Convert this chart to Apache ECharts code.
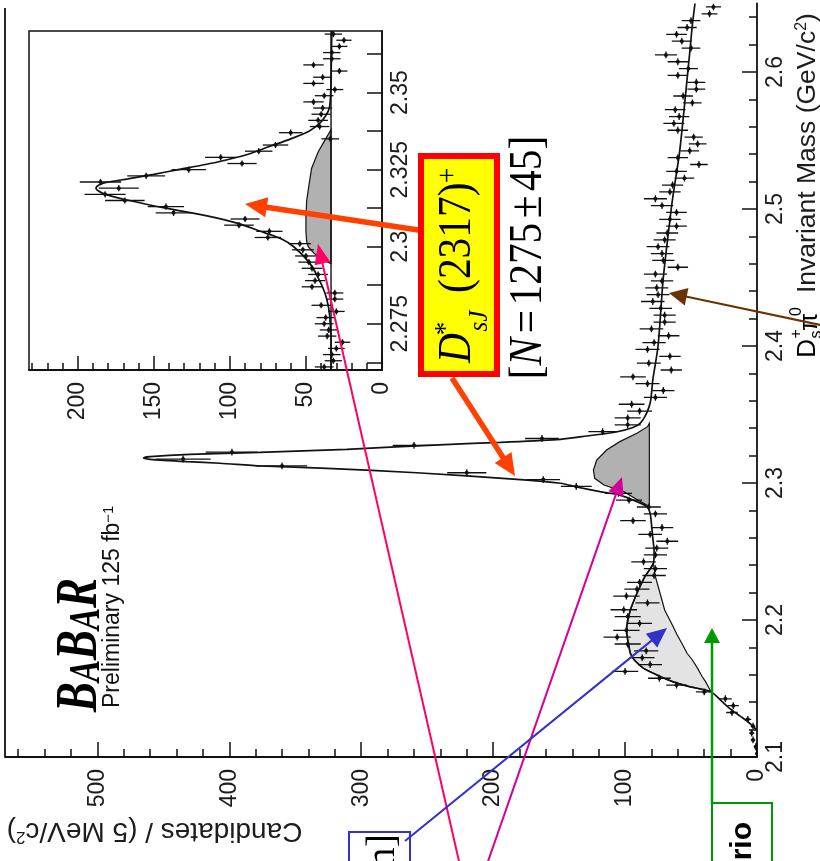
<!DOCTYPE html>
<html>
<head>
<meta charset="utf-8">
<title>Ds+ pi0 invariant mass</title>
<script src="https://cdn.jsdelivr.net/npm/echarts@6.0.0/dist/echarts.min.js"></script>
<style>
  html, body { margin: 0; padding: 0; background: #ffffff; }
  #chart { width: 820px; height: 861px; }
</style>
</head>
<body>
<div id="chart"></div>
<script>
// ---- Main histogram: Ds+ pi0 candidates, 5 MeV bins from 2.10 GeV ----
const MAIN_BIN_START = 2.10;
const MAIN_BIN_WIDTH = 0.005;
const mainCounts = [
  0, 1, 3, 4, 3, 7, 19, 18, 24, 40,
  61, 74, 100, 81, 87, 84, 98, 106, 99, 89,
  98, 101, 83, 99, 91, 89, 78, 77, 86, 77,
  76, 68, 81, 72, 94, 77, 82, 97, 105, 137,
  162, 220, 360, 435, 398, 260, 163, 117, 98, 98,
  89, 95, 77, 71, 83, 94, 65, 82, 66, 83,
  78, 67, 80, 70, 70, 73, 79, 75, 76, 72,
  77, 60, 71, 72, 75, 70, 68, 61, 66, 61,
  72, 77, 66, 64, 55, 61, 44, 60, 51, 45,
  48, 60, 63, 59, 62, 49, 56, 46, 46, 60,
  52, 60, 69, 50, 57, 61, 53, 50, 36, 33
];

// ---- Zoomed histogram: 2 MeV bins from 2.26 GeV ----
const ZOOM_BIN_START = 2.26;
const ZOOM_BIN_WIDTH = 0.002;
const zoomCounts = [
  38, 32, 33, 30, 26, 36, 35, 38, 37, 30,
  40, 31, 31, 46, 44, 42, 46, 48, 50, 52,
  54, 75, 74, 94, 90, 137, 142, 169, 182, 173,
  185, 155, 127, 92, 106, 81, 70, 34, 60, 41,
  42, 40, 39, 45, 38, 31, 45, 39, 28, 45,
  33, 33, 28, 25, 32
];

// ---- Fit result, main plot: [mass, candidates] ----
const mainFit = [
  [2.1195, 0], [2.125, 6], [2.130, 13], [2.135, 20], [2.140, 26], [2.1477, 35],
  [2.1515, 52], [2.155, 64], [2.1586, 73], [2.1647, 86], [2.1708, 93], [2.1757, 96],
  [2.183, 97.5], [2.190, 98.7], [2.1951, 98.7], [2.2073, 96], [2.2195, 91], [2.2316, 85],
  [2.2414, 78.5], [2.250, 78], [2.260, 79], [2.270, 80], [2.2779, 81], [2.2827, 83.5],
  [2.2864, 91], [2.2912, 104], [2.2937, 119], [2.2971, 136.6], [2.2998, 149], [2.3027, 182],
  [2.3075, 258], [2.3107, 326], [2.3124, 376], [2.3144, 407], [2.3156, 432], [2.3173, 460],
  [2.3182, 465], [2.3192, 460], [2.3209, 430], [2.3224, 377], [2.3246, 311], [2.3277, 245],
  [2.3297, 195], [2.3319, 149], [2.3343, 129], [2.3374, 106], [2.3405, 94], [2.3435, 88.6],
  [2.3484, 85], [2.355, 82], [2.3606, 80.5], [2.375, 79], [2.400, 75], [2.450, 71],
  [2.500, 65], [2.5114, 63.4], [2.5406, 58.8], [2.5723, 55.3], [2.5966, 52.8], [2.616, 50.8],
  [2.6343, 49], [2.650, 47]
];

// Ds*(2112) reflection band: [mass, upper edge, lower edge]
const reflLow = [
  [2.1477, 35, 35], [2.1515, 52, 37], [2.155, 64, 39], [2.1586, 73, 41.5],
  [2.1647, 86, 45], [2.1708, 93, 49], [2.1757, 96, 53], [2.183, 97.5, 57],
  [2.190, 98.7, 61], [2.1951, 98.7, 63.5], [2.2073, 96, 70], [2.2195, 91, 73.5],
  [2.2316, 85, 77], [2.2414, 78.5, 78.5]
];

// Ds(2460) reflection bump on top of the background level: [mass, upper edge]
const REFL_HIGH_BASE = 81.6;
const reflHigh = [
  [2.2827, 81.6], [2.2839, 83.6], [2.2885, 92], [2.2937, 101], [2.2985, 116],
  [2.3034, 123], [2.3095, 124], [2.3168, 121.5], [2.3241, 114], [2.3302, 104],
  [2.3363, 91], [2.3411, 83], [2.3436, 81.6]
];

// ---- Fit result, zoomed plot ----
const zoomFit = [
  [2.260, 33.5], [2.270, 33.5], [2.275, 34], [2.280, 35], [2.285, 37.5], [2.290, 42],
  [2.295, 48], [2.300, 58], [2.3025, 66], [2.305, 80], [2.3075, 94], [2.310, 115],
  [2.3125, 142], [2.315, 166], [2.317, 182], [2.318, 186], [2.319, 188], [2.320, 186],
  [2.321, 180], [2.322, 167], [2.3235, 150], [2.325, 134], [2.3275, 108], [2.330, 88],
  [2.3325, 74], [2.335, 60], [2.3375, 48], [2.340, 41], [2.3425, 37], [2.345, 34.6],
  [2.350, 33.7], [2.360, 33.3], [2.370, 33]
];
const ZOOM_REFL_BASE = 33.5;
const zoomRefl = [
  [2.2945, 33.5], [2.296, 40], [2.298, 45], [2.300, 48.5], [2.3016, 49.5], [2.305, 50],
  [2.310, 50], [2.315, 49.5], [2.320, 48], [2.3254, 46.3], [2.3308, 41.9], [2.3346, 37.5],
  [2.338, 33.5]
];
const zoomBackground = [[2.26, 33.5], [2.37, 33.5]];

// ---- Axis ticks ----
const mainCountTicks = [0, 100, 200, 300, 400, 500];
const mainCountMinorTicks = [20, 40, 60, 80, 120, 140, 160, 180, 220, 240, 260, 280,
  320, 340, 360, 380, 420, 440, 460, 480, 520, 540, 560];
const mainMassTicks = [2.1, 2.2, 2.3, 2.4, 2.5, 2.6];
const mainMassMinorTicks = [2.12, 2.14, 2.16, 2.18, 2.22, 2.24, 2.26, 2.28, 2.32, 2.34,
  2.36, 2.38, 2.42, 2.44, 2.46, 2.48, 2.52, 2.54, 2.56, 2.58, 2.62, 2.64];
const zoomCountTicks = [0, 50, 100, 150, 200];
const zoomCountMinorTicks = [10, 20, 30, 40, 60, 70, 80, 90, 110, 120, 130, 140,
  160, 170, 180, 190, 210, 220, 230];
const zoomMassTicks = [2.2625, 2.275, 2.2875, 2.3, 2.3125, 2.325, 2.3375, 2.35, 2.3625];
const zoomMassLabels = [2.275, 2.3, 2.325, 2.35];

// ---- Drawing ----
const SANS = '"Liberation Sans", Arial, Helvetica, sans-serif';
const SERIF = '"Liberation Serif", "Times New Roman", serif';
const INK = '#111111';
const LABEL_INK = '#1c1c1c';

const toXY = rows => rows.map(r => [r[1], r[0]]);

function histogramPoints(counts, start, width) {
  return counts.map((c, i) => [c, start + (i + 0.5) * width, Math.sqrt(c), width / 2]);
}

function errorBarSeries(name, xi, yi, points) {
  return {
    name, type: 'custom', xAxisIndex: xi, yAxisIndex: yi, z: 3, clip: true, silent: true,
    dimensions: ['count', 'mass', 'err', 'halfBin'],
    encode: { x: 0, y: 1 },
    data: points,
    renderItem(params, api) {
      const c = api.value(0), m = api.value(1), e = api.value(2), hw = api.value(3);
      const p = api.coord([c, m]);
      const l = api.coord([c - e, m]), r = api.coord([c + e, m]);
      const b = api.coord([c, m - hw]), t = api.coord([c, m + hw]);
      const st = { stroke: INK, lineWidth: 1.3 };
      return {
        type: 'group',
        children: [
          { type: 'line', shape: { x1: l[0], y1: l[1], x2: r[0], y2: r[1] }, style: st },
          { type: 'line', shape: { x1: b[0], y1: b[1], x2: t[0], y2: t[1] }, style: st },
          { type: 'circle', shape: { cx: p[0], cy: p[1], r: 2 }, style: { fill: INK } }
        ]
      };
    }
  };
}

function bandSeries(name, xi, yi, rows, baseValue, fill) {
  return {
    name, type: 'custom', xAxisIndex: xi, yAxisIndex: yi, z: 1, clip: true, silent: true,
    data: [[rows[0][1], rows[0][0]]],
    encode: { x: 0, y: 1 },
    renderItem(params, api) {
      const pts = rows.map(r => api.coord([r[1], r[0]]));
      for (let i = rows.length - 1; i >= 0; i--) {
        const lower = rows[i].length > 2 ? rows[i][2] : baseValue;
        pts.push(api.coord([lower, rows[i][0]]));
      }
      return { type: 'polygon', shape: { points: pts }, style: { fill, stroke: INK, lineWidth: 1.2 } };
    }
  };
}

function fitLine(name, xi, yi, rows, width) {
  return {
    name, type: 'line', xAxisIndex: xi, yAxisIndex: yi, data: toXY(rows),
    symbol: 'none', showSymbol: false, smooth: 0.25, clip: true, silent: true, z: 4,
    lineStyle: { color: INK, width }
  };
}

function countAxis(grid, max, ticks, tickLen, labels, margin) {
  return {
    gridIndex: grid, type: 'value', min: 0, max, inverse: true, position: 'bottom',
    axisLine: { show: !!labels, onZero: false, lineStyle: { color: INK, width: 1.8 } },
    axisTick: { show: true, inside: true, length: tickLen, customValues: ticks,
      lineStyle: { color: INK, width: 1.5 } },
    axisLabel: labels ? { show: true, customValues: labels, rotate: 90, margin,
      color: LABEL_INK, fontSize: 23, fontFamily: SANS, hideOverlap: false } : { show: false },
    splitLine: { show: false }, minorTick: { show: false }
  };
}

function massAxis(grid, min, max, ticks, tickLen, labels, margin) {
  return {
    gridIndex: grid, type: 'value', min, max, position: 'right',
    axisLine: { show: !!labels, onZero: false, lineStyle: { color: INK, width: 1.8 } },
    axisTick: { show: true, inside: true, length: tickLen, customValues: ticks,
      lineStyle: { color: INK, width: 1.5 } },
    axisLabel: labels ? { show: true, customValues: labels, rotate: 90, margin,
      color: LABEL_INK, fontSize: 23, fontFamily: SANS, hideOverlap: false } : { show: false },
    splitLine: { show: false }, minorTick: { show: false }
  };
}

// Annotation helpers (slide overlay drawn on top of the plot)
function arrow(x1, y1, x2, y2, color, width, headLen, headHalf) {
  const dx = x2 - x1, dy = y2 - y1, L = Math.hypot(dx, dy);
  const ux = dx / L, uy = dy / L;
  const bx = x2 - ux * headLen, by = y2 - uy * headLen;
  return [
    { type: 'line', z: 50, silent: true,
      shape: { x1, y1, x2: bx + ux * 2, y2: by + uy * 2 },
      style: { stroke: color, lineWidth: width } },
    { type: 'polygon', z: 51, silent: true,
      shape: { points: [[x2, y2], [bx - uy * headHalf, by + ux * headHalf], [bx + uy * headHalf, by - ux * headHalf]] },
      style: { fill: color } }
  ];
}

function txt(text, x, y, font, extra) {
  return Object.assign({
    type: 'text', x, y, z: 62, silent: true,
    style: { text, font, fill: '#000', align: 'left', textAlign: 'left',
      verticalAlign: 'middle', textVerticalAlign: 'middle' }
  }, extra || {});
}

const ROT = Math.PI / 2;

const graphics = [
  // frame edge of the main plot
  { type: 'line', z: 10, silent: true, shape: { x1: 5, y1: 8, x2: 5, y2: 757 },
    style: { stroke: INK, lineWidth: 1.8 } },

  // experiment label
  { type: 'text', x: 80, y: 712, rotation: ROT, scaleX: 0.75, z: 20, silent: true,
    style: { text: '{b|B}{a|A}{b|B}{a|A}{b|R}', fill: '#000', align: 'left', textAlign: 'left',
      verticalAlign: 'middle', textVerticalAlign: 'middle',
      rich: {
        b: { fontSize: 60, fontFamily: SERIF, fontStyle: 'italic', fontWeight: 'bold', verticalAlign: 'bottom' },
        a: { fontSize: 44, fontFamily: SERIF, fontStyle: 'italic', fontWeight: 'bold', verticalAlign: 'bottom' }
      } } },
  { type: 'text', x: 113, y: 708, rotation: ROT, z: 20, silent: true,
    style: { text: '{p|Preliminary 125 fb}{s|\u22121}', fill: '#111', align: 'left', textAlign: 'left',
      verticalAlign: 'middle', textVerticalAlign: 'middle',
      rich: {
        p: { fontSize: 23, fontFamily: SANS },
        s: { fontSize: 15, fontFamily: SANS, verticalAlign: 'top' }
      } } },

  // axis titles
  { type: 'text', x: 154.5, y: 831, rotation: Math.PI, z: 20, silent: true,
    style: { text: '{a|Candidates / (5 MeV/c}{s|2}{a|)}', fill: LABEL_INK, align: 'center', textAlign: 'center',
      verticalAlign: 'middle', textVerticalAlign: 'middle',
      rich: {
        a: { fontSize: 28, fontFamily: SANS },
        s: { fontSize: 17, fontFamily: SANS, verticalAlign: 'top' }
      } } },
  { type: 'group', x: 807.5, y: 358, rotation: ROT, z: 20, silent: true,
    children: [
      txt('D', 0, 0, '26.5px ' + SANS, { z: 20 }),
      txt('+', 19.5, -11, '16px ' + SANS, { z: 20 }),
      txt('s', 19.5, 9, '16px ' + SANS, { z: 20 }),
      txt('\u03c0', 27, 2, '26.5px ' + SANS, { z: 20 }),
      txt('0', 42, -11, '16px ' + SANS, { z: 20 }),
      { type: 'text', x: 65, y: 0, z: 20, silent: true,
        style: { text: '{a|Invariant Mass (GeV/c}{s|2}{a|)}', fill: LABEL_INK, align: 'left', textAlign: 'left',
          verticalAlign: 'middle', textVerticalAlign: 'middle',
          rich: {
            a: { fontSize: 26.5, fontFamily: SANS },
            s: { fontSize: 16, fontFamily: SANS, verticalAlign: 'top' }
          } } }
    ] },

  // pointer lines
  ...arrow(461, 870, 318, 244, '#ff0066', 2, 20, 8),
  ...arrow(485, 870, 622, 477, '#d4009a', 2, 18, 8),
  ...arrow(405, 841, 667, 628, '#3232c8', 2, 20, 9),
  ...arrow(712, 803, 712, 628, '#009900', 2.5, 15, 8),
  ...arrow(830, 327, 669, 293, '#6b3300', 2, 18, 9),
  ...arrow(425, 231, 245, 204, '#ff4000', 5.5, 22, 10),
  ...arrow(452, 378, 515, 476, '#ff4000', 5.5, 22, 10),

  // boxed state label
  { type: 'rect', z: 60, silent: true, shape: { x: 421, y: 156, width: 76, height: 218 },
    style: { fill: '#ffff00', stroke: '#ff0000', lineWidth: 6 } },
  { type: 'group', x: 458, y: 265, rotation: ROT, scaleX: 0.9, z: 62, silent: true,
    children: [
      txt('D', -109, 0, 'italic 46px ' + SERIF),
      txt('*', -78, -12, '30px ' + SERIF),
      txt('sJ', -74, 22, 'italic 28px ' + SERIF),
      txt('(2317)', -31, 0, '46px ' + SERIF),
      txt('+', 91, -10, '30px ' + SERIF)
    ] },
  { type: 'text', x: 529, y: 257.5, rotation: ROT, scaleX: 0.9, z: 62, silent: true,
    style: { text: '{b|[}{n|N}{o|=}{b|1275}{o|\u00b1}{b|45}{b|]}', fill: '#000',
      align: 'center', textAlign: 'center', verticalAlign: 'middle', textVerticalAlign: 'middle',
      rich: {
        b: { fontSize: 46, fontFamily: SERIF },
        n: { fontSize: 46, fontFamily: SERIF, fontStyle: 'italic' },
        o: { fontSize: 46, fontFamily: SERIF, padding: [0, 5] }
      } } },

  // boxes at the lower edge
  { type: 'rect', z: 60, silent: true, shape: { x: 349, y: 832, width: 61, height: 40 },
    style: { fill: 'rgba(255,255,255,0)', stroke: '#3232c8', lineWidth: 2 } },
  { type: 'text', x: 383.5, y: 834, rotation: ROT, z: 61, silent: true,
    style: { text: 'm]', font: '40px ' + SERIF, fill: '#000', align: 'right', textAlign: 'right',
      verticalAlign: 'middle', textVerticalAlign: 'middle' } },
  { type: 'rect', z: 60, silent: true, shape: { x: 712, y: 803, width: 60, height: 70 },
    style: { fill: '#ffffff', stroke: '#009900', lineWidth: 2 } },
  { type: 'text', x: 743, y: 822, rotation: ROT, z: 61, silent: true,
    style: { text: 'rio', font: 'bold 30px ' + SANS, fill: '#000', align: 'right', textAlign: 'right',
      verticalAlign: 'middle', textVerticalAlign: 'middle' } }
];

const chart = echarts.init(document.getElementById('chart'), null, { renderer: 'canvas', width: 820, height: 861 });

chart.setOption({
  animation: false,
  backgroundColor: '#ffffff',
  textStyle: { fontFamily: SANS },
  grid: [
    { left: 5, top: 3.5, width: 752, height: 753.5, show: false, containLabel: false, outerBoundsMode: 'none' },
    { left: 29, top: 31, width: 353, height: 339, show: true, backgroundColor: '#ffffff',
      borderColor: INK, borderWidth: 1.5, containLabel: false, outerBoundsMode: 'none' }
  ],
  xAxis: [
    countAxis(0, 570, mainCountTicks, 15, mainCountTicks, 12),
    countAxis(0, 570, mainCountMinorTicks, 8, null, 0),
    countAxis(1, 232, zoomCountTicks, 14, zoomCountTicks, 12),
    countAxis(1, 232, zoomCountMinorTicks, 7, null, 0)
  ],
  yAxis: [
    massAxis(0, 2.10, 2.65, mainMassTicks, 15, mainMassTicks, 7),
    massAxis(0, 2.10, 2.65, mainMassMinorTicks, 8, null, 0),
    massAxis(1, 2.26, 2.37, zoomMassTicks, 15, zoomMassLabels, 7)
  ],
  series: [
    bandSeries('Ds*(2112) reflection', 0, 0, reflLow, null, '#e3e3e3'),
    bandSeries('Ds(2460) reflection', 0, 0, reflHigh, REFL_HIGH_BASE, '#b1b1b1'),
    errorBarSeries('data', 0, 0, histogramPoints(mainCounts, MAIN_BIN_START, MAIN_BIN_WIDTH)),
    fitLine('fit', 0, 0, mainFit, 1.7),

    bandSeries('Ds(2460) reflection (zoom)', 2, 2, zoomRefl, ZOOM_REFL_BASE, '#b1b1b1'),
    fitLine('background level (zoom)', 2, 2, zoomBackground, 1.4),
    errorBarSeries('data (zoom)', 2, 2, histogramPoints(zoomCounts, ZOOM_BIN_START, ZOOM_BIN_WIDTH)),
    fitLine('fit (zoom)', 2, 2, zoomFit, 1.7)
  ],
  graphic: graphics
});
</script>
</body>
</html>
